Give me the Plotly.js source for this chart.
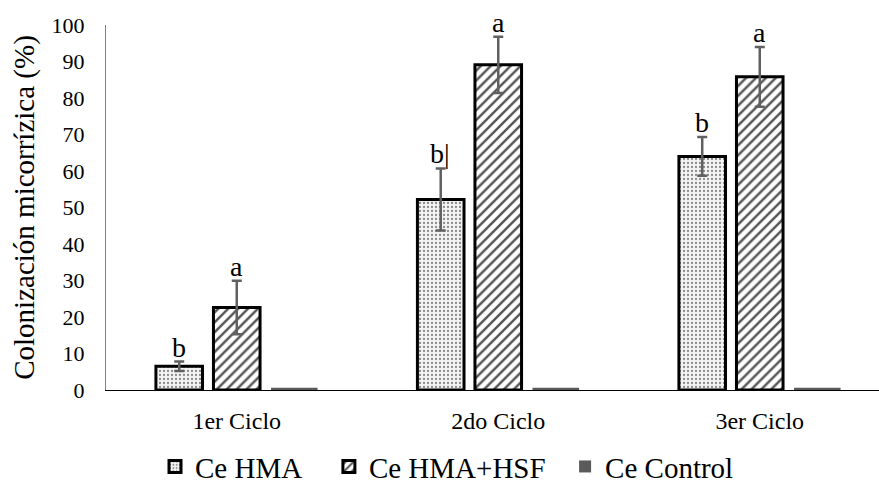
<!DOCTYPE html>
<html><head><meta charset="utf-8">
<script src="https://cdn.plot.ly/plotly-3.0.1.min.js"></script>
<style>body{margin:0;background:#fff}#c{width:879px;height:484px}</style>
</head><body><div id="c"></div>
<script>
const categories = ['1er Ciclo', '2do Ciclo', '3er Ciclo'];
const hma = [6.5, 52.2, 64.0];
const hmaErr = [1.3, 8.5, 5.3];
const hsf = [22.6, 89.1, 85.8];
const hsfErr = [7.3, 7.7, 8.2];
const control = [0.6, 0.6, 0.6];
const lettersHma = ['b', 'b|', 'b'];
const lettersHsf = ['a', 'a', 'a'];
const yTicks = [0,10,20,30,40,50,60,70,80,90,100];
const seriesNames = ['Ce HMA\u00a0\u00a0\u00a0', 'Ce HMA+HSF\u00a0\u00a0', 'Ce Control'];

const serif = 'Liberation Serif';
const errStyle = {type:'data', visible:true, color:'#606060', thickness:2.5, width:5};

const traces = [
  {type:'bar', name:seriesNames[0], x:categories, y:hma,
   error_y:Object.assign({array:hmaErr}, errStyle),
   marker:{color:'#f4f4f4', line:{color:'#000', width:3},
     pattern:{shape:'.', fgcolor:'#8a8a8a', bgcolor:'#f4f4f4', size:4, solidity:0.25}}},
  {type:'bar', name:seriesNames[1], x:categories, y:hsf,
   error_y:Object.assign({array:hsfErr}, errStyle),
   marker:{color:'#ffffff', line:{color:'#000', width:3},
     pattern:{shape:'/', fgcolor:'#555', bgcolor:'#fff', size:7, solidity:0.35}}},
  {type:'bar', name:seriesNames[2], x:categories, y:control,
   marker:{color:'#5a5a5a', line:{color:'#5a5a5a', width:0}}}
];

const annotations = [];
for (let i = 0; i < categories.length; i++) {
  annotations.push({x:categories[i], y:hma[i]+hmaErr[i], xshift:-58, yshift:-3, text:lettersHma[i],
    showarrow:false, yanchor:'bottom', font:{family:serif, size:28, color:'#000'}});
  annotations.push({x:categories[i], y:hsf[i]+hsfErr[i], xshift:0, yshift:-3, text:lettersHsf[i],
    showarrow:false, yanchor:'bottom', font:{family:serif, size:28, color:'#000'}});
}

const layout = {
  width:879, height:484,
  margin:{l:106, r:0, t:25, b:94, autoexpand:false},
  paper_bgcolor:'#fff', plot_bgcolor:'#fff',
  barmode:'group', bargap:0.34, bargroupgap:0.19,
  font:{family:serif, color:'#000'},
  showlegend:true,
  legend:{orientation:'h', x:0.0634, xanchor:'left', y:-0.14, yanchor:'top',
    font:{family:serif, size:29, color:'#000'}, itemwidth:30, traceorder:'normal'},
  xaxis:{range:[-0.5, 2.456], showline:true, linecolor:'#000', linewidth:1, ticks:'', showgrid:false,
    tickfont:{family:serif, size:24, color:'#000'}, ticklabelstandoff:9},
  yaxis:{range:[0,100], tickvals:yTicks, ticktext:yTicks.map(String), showline:true, linecolor:'#808080', linewidth:1,
    ticks:'', showgrid:false, zeroline:false, ticklabelstandoff:16,
    tickfont:{family:serif, size:22, color:'#000'},
    title:{text:'Colonización micorrízica (%)', font:{family:serif, size:29, color:'#000'}, standoff:8}},
  annotations:annotations
};
Plotly.newPlot('c', traces, layout, {staticPlot:true});
</script></body></html>
